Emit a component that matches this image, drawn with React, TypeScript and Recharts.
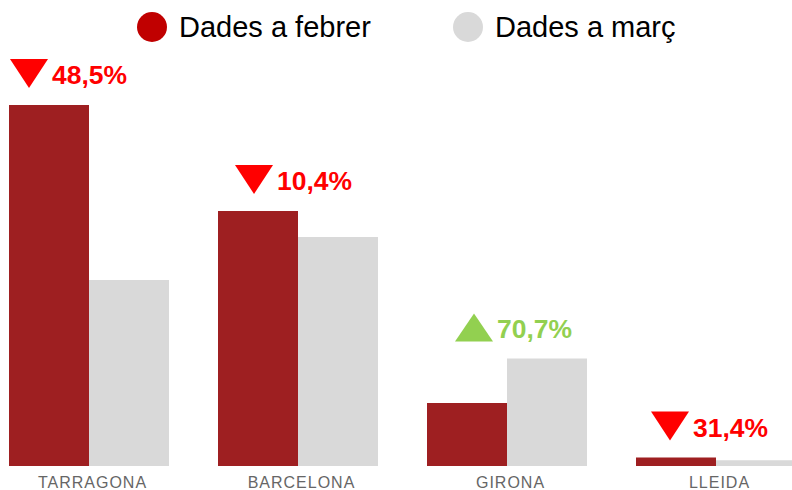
import React from "react";
import { BarChart, Bar, XAxis, YAxis, Legend, LabelList } from "recharts";

const provinces = ["TARRAGONA", "BARCELONA", "GIRONA", "LLEIDA"];
const febrer = [361, 255, 63, 8.5];
const marc = [186, 229, 107.5, 5.8];
const changes = ["48,5%", "10,4%", "70,7%", "31,4%"];
const trend = ["down", "down", "up", "down"];

const data = provinces.map((name, i) => ({
  name,
  febrer: febrer[i],
  marc: marc[i],
}));

// small horizontal nudges for the change labels, as in the original layout
const labelNudge = [-21, -5, 6, -7];

const RED_BAR = "#9e1f21";
const GREY = "#d9d9d9";

function ChangeLabel(props: any) {
  const { x, y, width, height, index } = props;
  const baseline = y + height;
  const perUnit = height / febrer[index];
  const greyTop = baseline - marc[index] * perUnit;
  const top = Math.min(y, greyTop);
  const center = x + width;
  const left = center - 58 + labelNudge[index];
  const up = trend[index] === "up";
  const color = up ? "#92d050" : "#ff0000";
  const tri = up
    ? `${left},${top - 17} ${left + 38},${top - 17} ${left + 19},${top - 45}`
    : `${left},${top - 46} ${left + 38},${top - 46} ${left + 19},${top - 17}`;
  return (
    <g>
      <polygon points={tri} fill={color} />
      <text
        x={left + 42}
        y={top - 21}
        fill={color}
        fontSize={26}
        fontWeight="bold"
        fontFamily="'Liberation Sans', Arial, sans-serif"
        textLength={75}
        lengthAdjust="spacingAndGlyphs"
      >
        {changes[index]}
      </text>
    </g>
  );
}

function ProvinceTick(props: any) {
  const { x, y, payload } = props;
  return (
    <text
      x={x + 4}
      y={y + 22}
      textAnchor="middle"
      fill="#666"
      fontSize={16}
      letterSpacing={1}
      fontFamily="'Liberation Sans', Arial, sans-serif"
    >
      {payload.value}
    </text>
  );
}

function LegendBox() {
  return (
    <svg width={792} height={50}>
      <circle cx={152} cy={27} r={15} fill="#c00000" />
      <text x={179} y={37} fontSize={29} fill="#000" fontFamily="'Liberation Sans', Arial, sans-serif">
        Dades a febrer
      </text>
      <circle cx={468} cy={27} r={15} fill={GREY} />
      <text x={495} y={37} fontSize={29} fill="#000" fontFamily="'Liberation Sans', Arial, sans-serif">
        Dades a març
      </text>
    </svg>
  );
}

export default function App() {
  return (
    <div
      style={{
        position: "absolute",
        left: 0,
        top: 0,
        width: 792,
        height: 490,
        overflow: "hidden",
        background: "#fff",
        fontFamily: "'Liberation Sans', Arial, sans-serif",
      }}
    >
      <div style={{ position: "absolute", left: -16, top: 0 }}>
        <BarChart
          width={836}
          height={490}
          data={data}
          margin={{ top: 105, right: 0, left: 0, bottom: 0 }}
          barGap={0}
          barSize={80}
        >
          <XAxis
            dataKey="name"
            height={24}
            axisLine={false}
            tickLine={false}
            tickSize={0}
            tickMargin={0}
            interval={0}
            tick={<ProvinceTick />}
          />
          <YAxis hide domain={[0, 361]} />
          <Legend
            verticalAlign="middle"
            align="center"
            layout="horizontal"
            wrapperStyle={{ top: 0, left: 16, width: 792, height: 50 }}
            content={() => <LegendBox />}
          />
          <Bar dataKey="febrer" fill={RED_BAR} isAnimationActive={false}>
            <LabelList dataKey="febrer" content={<ChangeLabel />} />
          </Bar>
          <Bar dataKey="marc" fill={GREY} isAnimationActive={false} />
        </BarChart>
      </div>
    </div>
  );
}
